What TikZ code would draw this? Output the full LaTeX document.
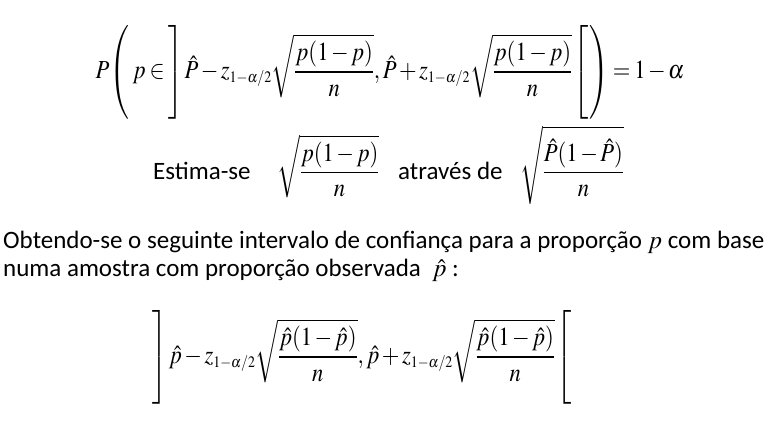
\documentclass[tikz,border=0pt]{standalone}
\usepackage{mathptmx}
\usepackage[no-math]{fontspec}
\setmainfont{Carlito}
\DeclareMathSizes{26}{26}{16}{12}

\medmuskip=2mu
\thickmuskip=3mu
\delimitershortfall=0pt
\delimiterfactor=1000
\newcommand\delimstrut[1]{\vcenter{\hbox{\rule{0pt}{#1}}}}
\newcommand\squeeze[1]{\scalebox{0.87}[1]{#1}}

\tikzset{
  txt/.style={inner sep=0pt, font=\fontsize{25}{30}\selectfont},
  formula/.style={inner sep=0pt, font=\fontsize{26}{30}\selectfont},
}

\begin{document}
\begin{tikzpicture}[x=1pt,y=-1pt]
\useasboundingbox (0,0) rectangle (779,429);

\node (prob) at (390,72) [formula] {\squeeze{$\displaystyle P{\left(\delimstrut{90pt}\right.}\,p\in{\left]\delimstrut{88pt}\right.}\hat{P}-z_{1-\alpha/2}\sqrt{\frac{p(1-p)}{n}},\hat{P}+z_{1-\alpha/2}\sqrt{\frac{p(1-p)}{n}}{\left.\delimstrut{88pt}\right[}{\left.\delimstrut{90pt}\right)}=1-\alpha$}};

\node (estima) at (153,179) [txt, anchor=base west] {Estima-se};
\node (sqrtp) at (277,179) [formula, anchor=base west] {\squeeze{$\displaystyle\sqrt{\frac{p(1-p)}{n}}$}};
\node (atraves) at (398,179) [txt, anchor=base west] {através de};
\node (sqrtphat) at (520,179) [formula, anchor=base west] {\squeeze{$\displaystyle\sqrt{\frac{\hat{P}(1-\hat{P})}{n}}$}};

\node (linha1) at (3,248) [txt, anchor=base west] {Obtendo-se o seguinte intervalo de confiança para a proporção $p$ com base};
\node (linha2) at (3,276) [txt, anchor=base west] {numa amostra com proporção observada \ $\hat{p}$ :};

\node (intervalo) at (362,357) [formula] {\squeeze{$\displaystyle{\left]\delimstrut{80pt}\right.}\hat{p}-z_{1-\alpha/2}\sqrt{\frac{\hat{p}(1-\hat{p})}{n}},\hat{p}+z_{1-\alpha/2}\sqrt{\frac{\hat{p}(1-\hat{p})}{n}}{\left.\delimstrut{80pt}\right[}$}};

\end{tikzpicture}
\end{document}
